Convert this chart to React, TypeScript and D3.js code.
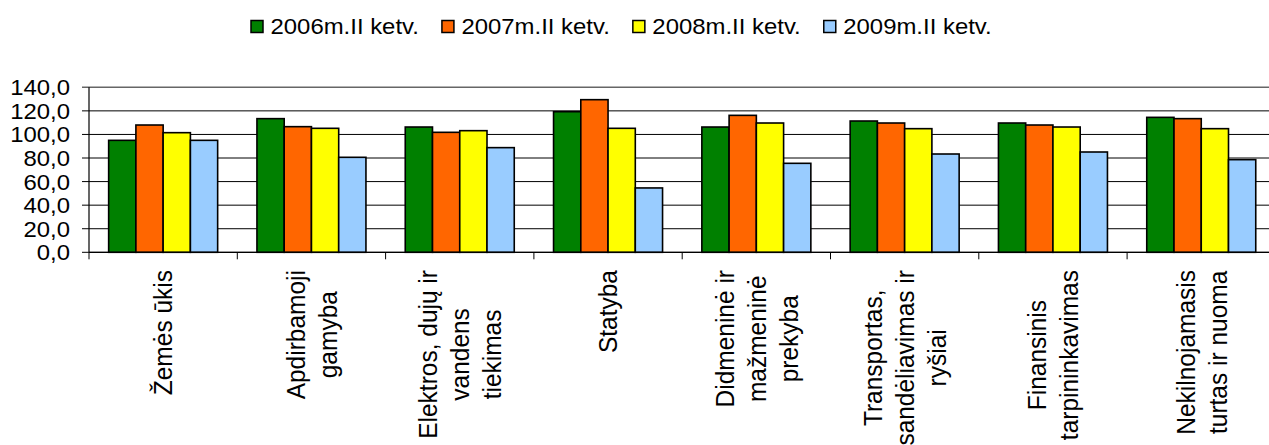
import React, { useMemo } from "react";
import * as d3 from "d3";

const categories: string[][] = [
  ["Žemės ūkis"],
  ["Apdirbamoji", "gamyba"],
  ["Elektros, dujų ir", "vandens", "tiekimas"],
  ["Statyba"],
  ["Didmeninė ir", "mažmeninė", "prekyba"],
  ["Transportas,", "sandėliavimas ir", "ryšiai"],
  ["Finansinis", "tarpininkavimas"],
  ["Nekilnojamasis", "turtas ir nuoma"],
];
const seriesNames = ["2006m.II ketv.", "2007m.II ketv.", "2008m.II ketv.", "2009m.II ketv."];
const seriesColors = ["#008000", "#FF6600", "#FFFF00", "#99CCFF"];
const values2006 = [95.0, 113.4, 106.3, 119.3, 106.3, 111.4, 109.7, 114.5];
const values2007 = [108.0, 106.6, 101.8, 129.5, 116.2, 109.7, 108.0, 113.4];
const values2008 = [101.5, 105.2, 103.2, 105.2, 109.7, 104.9, 106.3, 104.9];
const values2009 = [95.0, 80.6, 88.8, 54.6, 75.5, 83.4, 85.1, 78.6];
const yTicks = [0, 20, 40, 60, 80, 100, 120, 140];

const W = 1269;
const H = 445;
const FONT = "'Liberation Sans', Arial, sans-serif";
const SX = 1.087;
const LABEL_SIZE = 24.5;

function measure(text: string, size: number): number {
  const c = document.createElement("canvas");
  const ctx = c.getContext("2d")!;
  ctx.font = `${size}px ${FONT}`;
  return ctx.measureText(text).width;
}

export default function App() {
  const seriesValues = [values2006, values2007, values2008, values2009];
  const catKeys = categories.map((c) => c.join(" "));
  const plotLeft = 89;
  const step = 148.3;
  const x0 = d3.scaleBand<string>().domain(catKeys).range([plotLeft, plotLeft + step * catKeys.length]).paddingInner(0).paddingOuter(0);
  const x1 = d3.scaleBand<string>().domain(seriesNames).range([0, x0.bandwidth()]).paddingInner(0).paddingOuter(0.721);
  const y = d3.scaleLinear().domain([0, 140]).range([252.3, 87.3]);
  const plotRight = plotLeft + step * catKeys.length;
  const fmt = (v: number) => d3.format(".1f")(v).replace(".", ",");

  const legendItems = useMemo(() => {
    let x = 251;
    return seriesNames.map((name, i) => {
      const tw = measure(name, 22) * SX;
      const item = { name, color: seriesColors[i], x };
      x += 13 + 7.5 + tw + 22;
      return item;
    });
  }, []);

  const labelTops = 270;
  const lineGap = 32;

  return (
    <svg width={W} height={H} style={{ position: "absolute", left: 0, top: 0, background: "#fff" }} fontFamily={FONT}>
      <rect x={0} y={0} width={W} height={H} fill="#fff" />
      {legendItems.map((it) => (
        <g key={it.name}>
          <rect x={it.x} y={20.5} width={12} height={12} fill={it.color} stroke="#000" strokeWidth={1.5} />
          <text transform={`translate(${it.x + 19.5},34) scale(${SX},1)`} fontSize={22} fill="#000">
            {it.name}
          </text>
        </g>
      ))}
      {yTicks.map((t) => (
        <line key={"g" + t} x1={plotLeft - 7} x2={plotRight} y1={y(t)} y2={y(t)} stroke={t === 140 ? "#666" : "#000"} strokeWidth={t === 140 ? 1.5 : 1} />
      ))}
      {yTicks.map((t) => (
        <text key={"l" + t} transform={`translate(70,${y(t) + 8}) scale(${SX},1)`} textAnchor="end" fontSize={22} fill="#000">
          {fmt(t)}
        </text>
      ))}
      {catKeys.map((k, ci) => (
        <g key={k}>
          {seriesNames.map((s, si) => {
            const v = seriesValues[si][ci];
            const bx = (x0(k) as number) + (x1(s) as number);
            return (
              <rect key={s} x={bx} y={y(v)} width={x1.bandwidth()} height={y(0) - y(v)} fill={seriesColors[si]} stroke="#000" strokeWidth={1.6} />
            );
          })}
        </g>
      ))}
      <line x1={plotLeft} x2={plotLeft} y1={y(140)} y2={y(0)} stroke="#000" strokeWidth={1.2} />
      <line x1={plotLeft} x2={plotRight} y1={y(0)} y2={y(0)} stroke="#000" strokeWidth={1.2} />
      {d3.range(catKeys.length + 1).map((i) => (
        <line key={"t" + i} x1={plotLeft + i * step} x2={plotLeft + i * step} y1={y(0)} y2={y(0) + 7} stroke="#000" strokeWidth={1} />
      ))}
      {categories.map((lines, ci) => {
        const cx = (x0(catKeys[ci]) as number) + x0.bandwidth() / 2;
        const L = Math.max(...lines.map((l) => measure(l, LABEL_SIZE)));
        const cy = labelTops + L / 2;
        const n = lines.length;
        return (
          <g key={"c" + ci}>
            {lines.map((ln, li) => (
              <text
                key={li}
                transform={`translate(${cx + (li - (n - 1) / 2) * lineGap},${cy}) scale(${SX},1) rotate(-90)`}
                textAnchor="middle"
                dy="0.35em"
                fontSize={LABEL_SIZE}
                fill="#000"
              >
                {ln}
              </text>
            ))}
          </g>
        );
      })}
    </svg>
  );
}
